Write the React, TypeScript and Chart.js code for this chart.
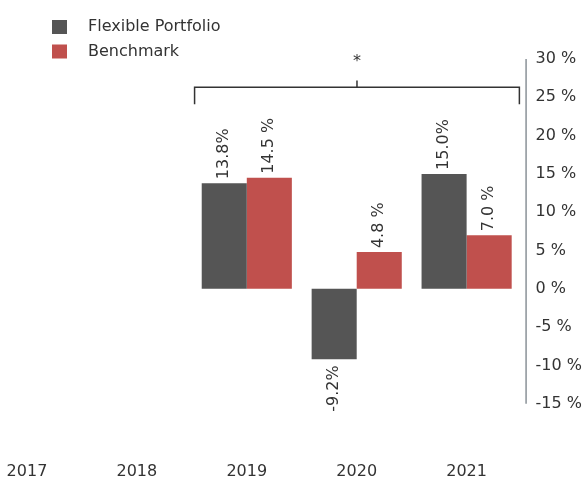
import React, { useEffect, useRef } from "react";
import { Chart, registerables } from "chart.js";

Chart.register(...registerables);

const years = ["2017", "2018", "2019", "2020", "2021"];
const portfolioValues: (number | null)[] = [null, null, 13.8, -9.2, 15.0];
const benchmarkValues: (number | null)[] = [null, null, 14.5, 4.8, 7.0];
const seriesNames = ["Flexible Portfolio", "Benchmark"];
const labelSuffixes = ["%", " %"];
const yMin = -15;
const yMax = 30;
const yStep = 5;
const bracketFrom = 2; // index of 2019
const bracketTo = 4; // index of 2021
const bracketLevel = 26.3;
const bracketTip = 24.1;
const bracketMidTop = 27.2;
const bracketMark = "*";

const FONT = "'DejaVu Sans', sans-serif";
const TEXT = "#333333";
const CANVAS_LEFT = -28;
const CANVAS_W = 624;
const CANVAS_H = 481;

const annotationsPlugin = {
  id: "customDraw",
  afterDatasetsDraw(chart: any) {
    const ctx = chart.ctx;
    const xs = chart.scales.x;
    const ys = chart.scales.y;
    const area = chart.chartArea;
    ctx.save();

    // right axis line
    ctx.strokeStyle = "#8a9197";
    ctx.lineWidth = 1.5;
    ctx.beginPath();
    const ax = area.right + 4.5;
    ctx.moveTo(ax, area.top);
    ctx.lineTo(ax, area.bottom);
    ctx.stroke();

    // value labels
    ctx.font = `16px ${FONT}`;
    ctx.fillStyle = TEXT;
    chart.data.datasets.forEach((ds: any, i: number) => {
      const meta = chart.getDatasetMeta(i);
      meta.data.forEach((bar: any, j: number) => {
        const v = ds.data[j];
        if (v === null || v === undefined) return;
        const { x, y } = bar.getProps(["x", "y"], true);
        const txt = v.toFixed(1) + ds.labelSuffix;
        ctx.save();
        if (v >= 0) {
          ctx.translate(x, y - 4);
          ctx.rotate(-Math.PI / 2);
          ctx.textAlign = "left";
        } else {
          ctx.translate(x, y + 6);
          ctx.rotate(-Math.PI / 2);
          ctx.textAlign = "right";
        }
        ctx.textBaseline = "middle";
        ctx.fillText(txt, 0, 0);
        ctx.restore();
      });
    });

    // significance bracket
    const w = xs.getPixelForValue(1) - xs.getPixelForValue(0);
    const left = xs.getPixelForValue(bracketFrom) - w * 0.475;
    const right = xs.getPixelForValue(bracketTo) + w * 0.48;
    const mid = (left + right) / 2;
    const yl = ys.getPixelForValue(bracketLevel);
    const yt = ys.getPixelForValue(bracketTip);
    const ym = ys.getPixelForValue(bracketMidTop);
    ctx.strokeStyle = "#333333";
    ctx.lineWidth = 1.5;
    ctx.beginPath();
    ctx.moveTo(left, yt);
    ctx.lineTo(left, yl);
    ctx.lineTo(right, yl);
    ctx.lineTo(right, yt);
    ctx.stroke();
    ctx.beginPath();
    ctx.moveTo(mid, yl);
    ctx.lineTo(mid, ym);
    ctx.stroke();
    ctx.font = `16px ${FONT}`;
    ctx.textAlign = "center";
    ctx.textBaseline = "alphabetic";
    ctx.fillStyle = TEXT;
    ctx.fillText(bracketMark, mid, ys.getPixelForValue(yMax) + 7);

    // legend
    chart.data.datasets.forEach((ds: any, i: number) => {
      const bx = 52 - CANVAS_LEFT;
      const by = 20 + i * 24.5;
      ctx.fillStyle = ds.backgroundColor;
      ctx.fillRect(bx, by, 15, 14);
      ctx.fillStyle = TEXT;
      ctx.font = `16px ${FONT}`;
      ctx.textAlign = "left";
      ctx.textBaseline = "middle";
      ctx.fillText(ds.label, 88 - CANVAS_LEFT, by + 7);
    });

    ctx.restore();
  },
};

export default function App() {
  const ref = useRef<HTMLCanvasElement>(null);
  useEffect(() => {
    document.body.style.margin = "0";
    if (!ref.current) return;
    const chart = new Chart(ref.current, {
      type: "bar",
      data: {
        labels: years,
        datasets: [
          {
            label: seriesNames[0],
            data: portfolioValues,
            backgroundColor: "#555555",
            labelSuffix: labelSuffixes[0],
          } as any,
          {
            label: seriesNames[1],
            data: benchmarkValues,
            backgroundColor: "#c0504d",
            labelSuffix: labelSuffixes[1],
          } as any,
        ],
      },
      options: {
        responsive: false,
        animation: false,
        devicePixelRatio: 1,
        layout: { padding: { top: 59, left: 0, right: 0, bottom: 0 } },
        datasets: { bar: { categoryPercentage: 0.82, barPercentage: 1.0 } },
        plugins: { legend: { display: false }, tooltip: { enabled: false } },
        scales: {
          x: {
            grid: {
              display: true,
              drawOnChartArea: false,
              drawTicks: true,
              tickLength: 58,
              color: "rgba(0,0,0,0)",
            },
            border: { display: false },
            ticks: { color: TEXT, font: { family: FONT, size: 16 }, padding: 0, maxRotation: 0 },
          },
          y: {
            position: "right",
            min: yMin,
            max: yMax,
            grid: { display: false, drawTicks: false },
            border: { display: false },
            ticks: {
              stepSize: yStep,
              color: TEXT,
              font: { family: FONT, size: 16 },
              padding: 14,
              callback: (v: any) => `${v} %`,
            },
          },
        },
      },
      plugins: [annotationsPlugin],
    });
    return () => chart.destroy();
  }, []);
  return (
    <div style={{ position: "relative", width: 582, height: 477, overflow: "hidden" }}>
      <canvas
        ref={ref}
        width={CANVAS_W}
        height={CANVAS_H}
        style={{ position: "absolute", left: CANVAS_LEFT, top: 0, width: CANVAS_W, height: CANVAS_H }}
      />
    </div>
  );
}
